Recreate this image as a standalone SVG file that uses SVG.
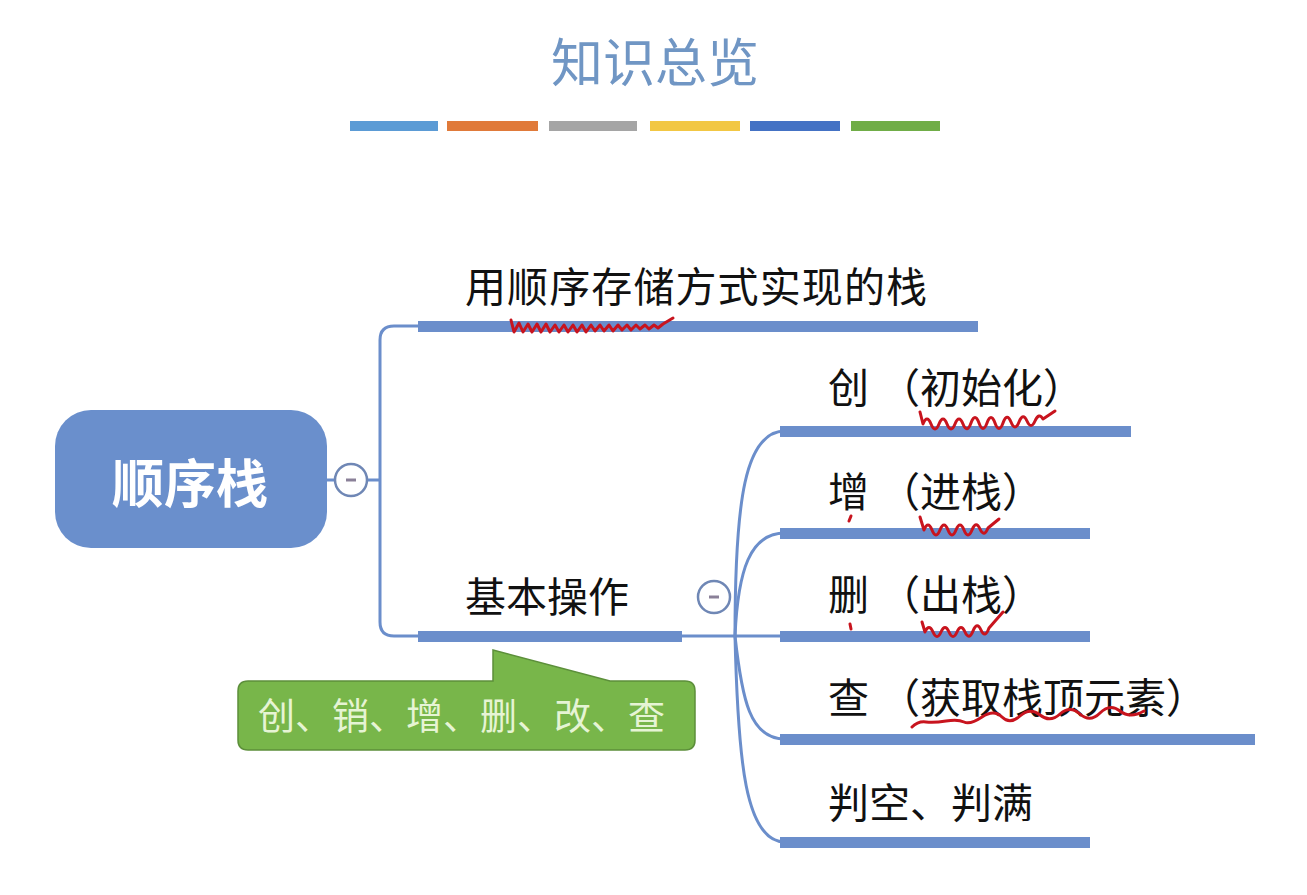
<svg xmlns="http://www.w3.org/2000/svg" width="1307" height="895" viewBox="0 0 1307 895">
<style>
.t{font-family:"Noto Sans CJK SC","Noto Sans",sans-serif;fill:#111;font-size:41px}
.bar{fill:#6b8ecb}
.ln{fill:none;stroke:#6b8ecb;stroke-width:3}
.col{fill:#fff;stroke:#6f87b5;stroke-width:2.5}
.minus{stroke:#8a8098;stroke-width:3}
.red{fill:none;stroke:#c8141e;stroke-width:3;stroke-linecap:round;stroke-linejoin:round}
</style>
<rect width="1307" height="895" fill="#fff"/>
<g id="title">
<text x="655" y="82" text-anchor="middle" style="font-family:'Noto Sans CJK SC',sans-serif;font-size:52px;fill:#7096c4">知识总览</text>
<rect x="350" y="121" width="88" height="10" fill="#5b9bd5"/>
<rect x="447" y="121" width="91" height="10" fill="#e07a3a"/>
<rect x="549" y="121" width="88" height="10" fill="#a5a5a5"/>
<rect x="650" y="121" width="90" height="10" fill="#f2c744"/>
<rect x="750" y="121" width="90" height="10" fill="#4472c4"/>
<rect x="851" y="121" width="89" height="10" fill="#70ad47"/>
</g>
<g id="connectors">
<path class="ln" d="M327,480 H335 M367,480 H380"/>
<path class="ln" d="M418,326 H394 Q380,326 380,340 V622 Q380,636 394,636 H418"/>
<path class="ln" d="M682,636 H780"/>
<path class="ln" d="M735,636 C735,500 745,431 785,431"/>
<path class="ln" d="M735,636 C738,570 750,533 785,533"/>
<path class="ln" d="M735,636 C742,700 750,739 785,739"/>
<path class="ln" d="M735,636 C738,760 745,842 785,842"/>
</g>
<g id="root">
<rect x="55" y="410" width="272" height="138" rx="36" fill="#6a8fcc"/>
<text x="190" y="503" text-anchor="middle" style="font-family:'Noto Sans CJK SC',sans-serif;font-size:52px;font-weight:bold;fill:#fff">顺序栈</text>
</g>
<g id="collapse-root">
<circle class="col" cx="351" cy="480" r="16"/>
<line class="minus" x1="346" y1="480" x2="356" y2="480"/>
</g>
<g id="n-impl">
<text class="t" x="465" y="302" textLength="462">用顺序存储方式实现的栈</text>
<rect class="bar" x="418" y="321" width="560" height="11"/>
</g>
<g id="n-ops">
<text class="t" x="465" y="612">基本操作</text>
<rect class="bar" x="418" y="631" width="264" height="11"/>
</g>
<g id="collapse-ops">
<circle class="col" cx="714" cy="597" r="16"/>
<line class="minus" x1="709" y1="597" x2="719" y2="597"/>
</g>
<g id="callout">
<path d="M250,681 H493 L493,650 L610,681 H685 Q695,681 695,691 V740 Q695,750 685,750 H248 Q238,750 238,740 V691 Q238,681 248,681 Z" fill="#78b64a" stroke="#5c8f3a" stroke-width="1.5"/>
<text x="258" y="730" style="font-family:'Noto Sans CJK SC',sans-serif;font-size:37px;fill:#e6f4d4">创、销、增、删、改、查</text>
</g>
<g id="n-create">
<text class="t" x="828" y="403">创<tspan dx="10">（初始化）</tspan></text>
<rect class="bar" x="780" y="426" width="351" height="11"/>
</g>
<g id="n-push">
<text class="t" x="828" y="507">增<tspan dx="10">（进栈）</tspan></text>
<rect class="bar" x="780" y="528" width="310" height="11"/>
</g>
<g id="n-pop">
<text class="t" x="828" y="610">删<tspan dx="10">（出栈）</tspan></text>
<rect class="bar" x="780" y="631" width="310" height="11"/>
</g>
<g id="n-top">
<text class="t" x="828" y="713">查<tspan dx="10">（获取栈顶元素）</tspan></text>
<rect class="bar" x="780" y="734" width="475" height="11"/>
</g>
<g id="n-empty">
<text class="t" x="828" y="818">判空、判满</text>
<rect class="bar" x="780" y="837" width="310" height="11"/>
</g>
<g id="annotations">
<path class="red" d="M511,320 l3,12 l5,-9 l4,9 l5,-8 l4,8 l5,-8 l4,8 l5,-8 l4,8 l5,-7 l4,7 l5,-7 l4,7 l5,-7 l4,7 l5,-7 l4,7 l5,-7 l4,6 l5,-6 l4,6 l5,-6 l4,6 l5,-6 l4,5 l5,-5 l4,5 l5,-5 l4,4 l5,-4 l4,4 l5,-4 l4,3 l5,-4 l10,-6"/>
<path class="red" d="M920,412 l3,12 q4,-10 8,0 t8,0 t8,0 t8,0 t8,0 t8,-1 t8,0 t8,0 t8,0 t8,0 t8,-1 t8,0 t8,-1 t8,0 t8,-2 l12,-8"/>
<path class="red" d="M920,517 l4,13 q4,-10 8,0 t8,0 t8,0 t8,0 t8,0 t8,0 t8,-1 t8,-1 l11,-9"/>
<path class="red" d="M922,622 l3,10 q4,-9 8,0 t8,0 t8,0 t8,0 t8,0 t8,-1 t8,-1 t8,-2 l14,-16"/>
<path class="red" d="M851,516 l-2,5 M850,624 l1,5" stroke-width="4"/>
<path class="red" d="M912,727 q6,-6 14,-5 t20,-1 t18,1 t18,-5 t20,0 t18,-1 t20,-1 t20,-1 t20,0 t20,-1 t20,-2 t24,0" stroke-width="2.5"/>
</g>
</svg>
